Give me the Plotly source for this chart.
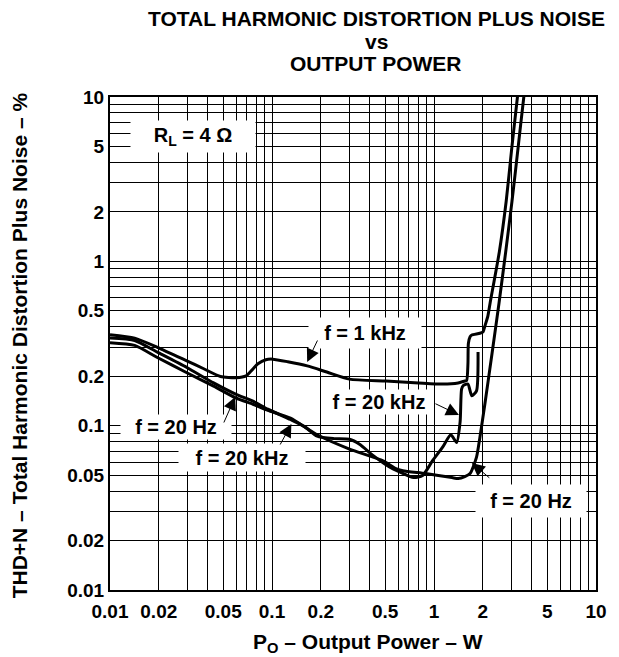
import plotly.graph_objects as go

# ---------------- data ----------------
power_1khz = [0.0100, 0.0142, 0.0196, 0.0298, 0.0379, 0.0481, 0.0601, 0.0692, 0.0742, 0.0819,
              0.0916, 0.101, 0.125, 0.165, 0.218, 0.301, 0.506, 0.804, 1.13, 1.41,
              1.55, 1.59, 1.62, 1.63, 1.67, 1.71, 1.92, 2.01, 2.06, 2.15,
              2.22, 2.53, 2.79, 3.01, 3.27, 3.35]
thd_1khz = [0.358, 0.341, 0.300, 0.248, 0.222, 0.199, 0.196, 0.201, 0.215, 0.238,
            0.252, 0.254, 0.245, 0.231, 0.212, 0.192, 0.187, 0.182, 0.179, 0.182,
            0.187, 0.188, 0.238, 0.316, 0.348, 0.356, 0.365, 0.373, 0.403, 0.464,
            0.558, 1.14, 2.32, 4.73, 9.9, 12.0]

power_20hz = [0.0100, 0.0142, 0.0196, 0.0298, 0.0436, 0.0601, 0.0763, 0.0942, 0.130, 0.190,
              0.301, 0.485, 0.582, 0.642, 0.887, 1.29, 1.41, 1.55, 1.67, 1.83,
              1.92, 2.06, 2.28, 2.52, 2.77, 3.03, 3.29, 3.58, 3.68]
thd_20hz = [0.320, 0.308, 0.260, 0.210, 0.174, 0.147, 0.135, 0.124, 0.111, 0.088,
            0.072, 0.061, 0.0547, 0.0532, 0.0511, 0.0483, 0.0477, 0.0490, 0.0511, 0.0643,
            0.0848, 0.135, 0.274, 0.558, 1.14, 2.32, 4.73, 9.9, 12.0]

power_20khz = [0.0100, 0.0142, 0.0196, 0.0298, 0.0436, 0.0601, 0.0763, 0.0942, 0.130, 0.158,
               0.190, 0.241, 0.301, 0.347, 0.422, 0.528, 0.607, 0.749, 0.850, 0.978,
               1.13, 1.27, 1.38, 1.45, 1.48, 1.52, 1.62, 1.71, 1.83, 1.87]
thd_20khz = [0.341, 0.330, 0.280, 0.226, 0.182, 0.155, 0.141, 0.126, 0.109, 0.099,
             0.0864, 0.0834, 0.0826, 0.0771, 0.0657, 0.0562, 0.0525, 0.0483, 0.0497, 0.061,
             0.074, 0.088, 0.079, 0.106, 0.167, 0.176, 0.179, 0.152, 0.163, 0.281]

x_label_values = [0.01, 0.02, 0.05, 0.1, 0.2, 0.5, 1, 2, 5, 10]
x_label_texts = ["0.01", "0.02", "0.05", "0.1", "0.2", "0.5", "1", "2", "5", "10"]
y_label_values = [0.01, 0.02, 0.05, 0.1, 0.2, 0.5, 1, 2, 5, 10]
y_label_texts = ["0.01", "0.02", "0.05", "0.1", "0.2", "0.5", "1", "2", "5", "10"]

# ---------------- helpers ----------------
W, H = 619, 657
L, R, T, B = 110, 603, 97, 590
FONT = "Liberation Sans, Arial, sans-serif"


def grid_values():
    vals = []
    for dec in [0.01, 0.1, 1]:
        for m in range(1, 10):
            vals.append(round(m * dec, 4))
    vals.append(10)
    return vals


def ticks(label_vals, label_txt):
    vals = grid_values()
    txt = []
    for v in vals:
        t = ""
        for lv, lt in zip(label_vals, label_txt):
            if abs(lv - v) < 1e-9:
                t = lt
        txt.append(t)
    return vals, txt


def pxx(x):
    return (x - L) / (R - L)


def pxy(y):
    return (B - y) / (B - T)


fig = go.Figure()
for xs, ys in [(power_1khz, thd_1khz), (power_20hz, thd_20hz), (power_20khz, thd_20khz)]:
    fig.add_trace(go.Scatter(x=xs, y=ys, mode="lines",
                             line=dict(color="black", width=3, shape="spline", smoothing=0.6),
                             showlegend=False, hoverinfo="skip"))

xv, xt = ticks(x_label_values, x_label_texts)
yv, yt = ticks(y_label_values, y_label_texts)

axis_common = dict(type="log", range=[-2, 1], showgrid=True, gridcolor="black", gridwidth=1,
                   showline=True, linecolor="black", linewidth=2, mirror=True,
                   ticks="", zeroline=False,
                   tickfont=dict(family=FONT, size=19, color="black", weight="bold"))
fig.update_xaxes(tickmode="array", tickvals=xv, ticktext=xt, ticklabelstandoff=3, **axis_common)
fig.update_yaxes(tickmode="array", tickvals=yv, ticktext=yt, ticklabelstandoff=0, **axis_common)

ann = []
txtfont = dict(family=FONT, size=20, color="black", weight="bold")
axfont = dict(family=FONT, size=21, color="black", weight="bold")

# Title lines
for text, yc in [("TOTAL HARMONIC DISTORTION PLUS NOISE", 19),
                 ("vs", 42), ("OUTPUT POWER", 64)]:
    ann.append(dict(text=text, xref="paper", yref="paper", x=pxx(380), y=pxy(yc),
                    xanchor="center", yanchor="middle", showarrow=False,
                    font=dict(family=FONT, size=21, color="black", weight="bold")))

# Axis titles
ann.append(dict(text="P<sub>O</sub> – Output Power – W", xref="paper", yref="paper",
                x=pxx(372), y=pxy(643), xanchor="center", yanchor="middle", showarrow=False,
                font=axfont))
ann.append(dict(text="THD+N – Total Harmonic Distortion Plus Noise – %", xref="paper", yref="paper",
                x=pxx(18), y=pxy(345), xanchor="center", yanchor="middle", showarrow=False,
                textangle=-90, font=axfont))

# Labels with white boxes: (text, center_x, center_y, width, height)
boxes = [("R<sub>L</sub> = 4 Ω", 194, 136, 124, 31),
         ("f = 1 kHz", 369, 333, 112, 30),
         ("f = 20 kHz", 383, 402, 104, 24),
         ("f = 20 Hz", 177, 427, 110, 24),
         ("f = 20 kHz", 244, 457, 126, 27),
         ("f = 20 Hz", 537, 501, 110, 32)]
for text, cx, cy, w, h in boxes:
    ann.append(dict(text=text, xref="paper", yref="paper", x=pxx(cx), y=pxy(cy),
                    xanchor="center", yanchor="middle", showarrow=False,
                    width=w, height=h, bgcolor="white", borderpad=0, font=txtfont))

# Arrows: head (x, y) and tail pixel positions
arrows = [((310, 362), (321, 339)),
          ((464, 415), (439, 403)),
          ((237, 397), (225, 424)),
          ((294, 424), (282, 446)),
          ((477, 463), (496, 479))]
for (hx, hy), (tx, ty) in arrows:
    ann.append(dict(text="", xref="paper", yref="paper", x=pxx(hx), y=pxy(hy),
                    ax=tx - hx, ay=ty - hy, showarrow=True, arrowhead=2, arrowsize=2.6,
                    arrowwidth=1, arrowcolor="black", standoff=0, startstandoff=0))

fig.update_layout(width=W, height=H, margin=dict(l=L, r=W - R, t=T, b=H - B),
                  paper_bgcolor="white", plot_bgcolor="white", annotations=ann,
                  font=dict(family=FONT, color="black"))

fig.write_html("out.html", config={"displayModeBar": False, "staticPlot": True},
               post_script="document.body.style.margin='0px';")
